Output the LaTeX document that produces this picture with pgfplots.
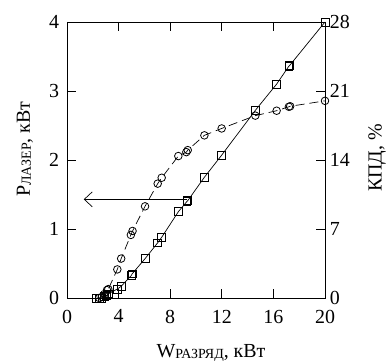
\documentclass[border=0pt]{standalone}
\usepackage{pgfplots}
\pgfplotsset{compat=1.18}
\usetikzlibrary{arrows.meta}
\usepackage{fontspec}
\setmainfont{Liberation Serif}
\begin{document}
\fontsize{20}{24}\selectfont
\begin{tikzpicture}
\pgfplotsset{
  every axis/.append style={
    scale only axis, width=258bp, height=276bp,
    at={(0,0)}, anchor=south west,
    xmin=0, xmax=20, clip=false,
    tick align=inside, major tick length=9bp,
    axis line style={line width=0.9pt}, every tick/.style={line width=0.9pt, black},
    /pgf/number format/assume math mode=true,
    tick label style={font=\fontsize{20}{24}\selectfont},
  }
}
\begin{axis}[
  ymin=0, ymax=4,
  xtick={0,4,8,12,16,20}, ytick={0,1,2,3,4},
  xtick pos=both, ytick pos=left,
  xticklabel style={yshift=-5bp},
  yticklabel style={xshift=-1bp},
]
\addplot[black, line width=0.7pt, mark=square, mark size=3.9bp, mark options={solid, line width=0.8pt}] coordinates {
(2.3,0.00) (2.5,0.00) (2.7,0.00) (2.9,0.02) (3.1,0.04) (3.2,0.06)
(3.9,0.13) (4.2,0.17) (5.0,0.33) (5.05,0.35) (6.05,0.57) (7.03,0.80)
(7.34,0.88) (8.63,1.25) (9.3,1.40) (9.36,1.41) (10.65,1.75) (11.99,2.07)
(14.6,2.72) (16.25,3.10) (17.2,3.36) (17.26,3.37) (20.0,4.0)
};
\draw[line width=0.7pt, -{Straight Barb[length=8bp,width=15bp,line width=0.7pt]}] (axis cs:9.33,1.43) -- (axis cs:1.3,1.43);
\end{axis}
\begin{axis}[
  ymin=0, ymax=28,
  axis x line=none, axis y line*=right,
  ytick={0,7,14,21,28}, ytick pos=right,
  yticklabel style={xshift=-2bp},
]
\addplot[black, line width=0.7pt, dash pattern=on 9bp off 5bp, mark=o, mark size=3.8bp, mark options={solid, line width=0.8pt}] coordinates {
(2.5,0.0) (2.7,0.1) (2.9,0.4) (3.1,0.8) (3.2,0.9) (3.9,2.9) (4.2,4.0)
(4.95,6.4) (5.08,6.8) (6.05,9.3) (7.03,11.6) (7.34,12.2) (8.63,14.4)
(9.25,14.8) (9.36,15.0) (10.65,16.5) (11.99,17.2) (14.6,18.5)
(16.25,19.0) (17.2,19.4) (17.3,19.45) (20.0,20.0)
};
\end{axis}
\node at (144bp,-55bp) {W\raisebox{-1bp}{\fontsize{14}{14}\selectfont РАЗРЯД}, кВт};
\node[rotate=90] at (-42bp,149bp) {P\raisebox{-1bp}{\fontsize{14}{14}\selectfont ЛАЗЕР}, кВт};
\node[rotate=90] at (310bp,140bp) {КПД, \%};
\pgfresetboundingbox
\path (-67bp,-63bp) rectangle (321bp,298bp);
\end{tikzpicture}
\end{document}
